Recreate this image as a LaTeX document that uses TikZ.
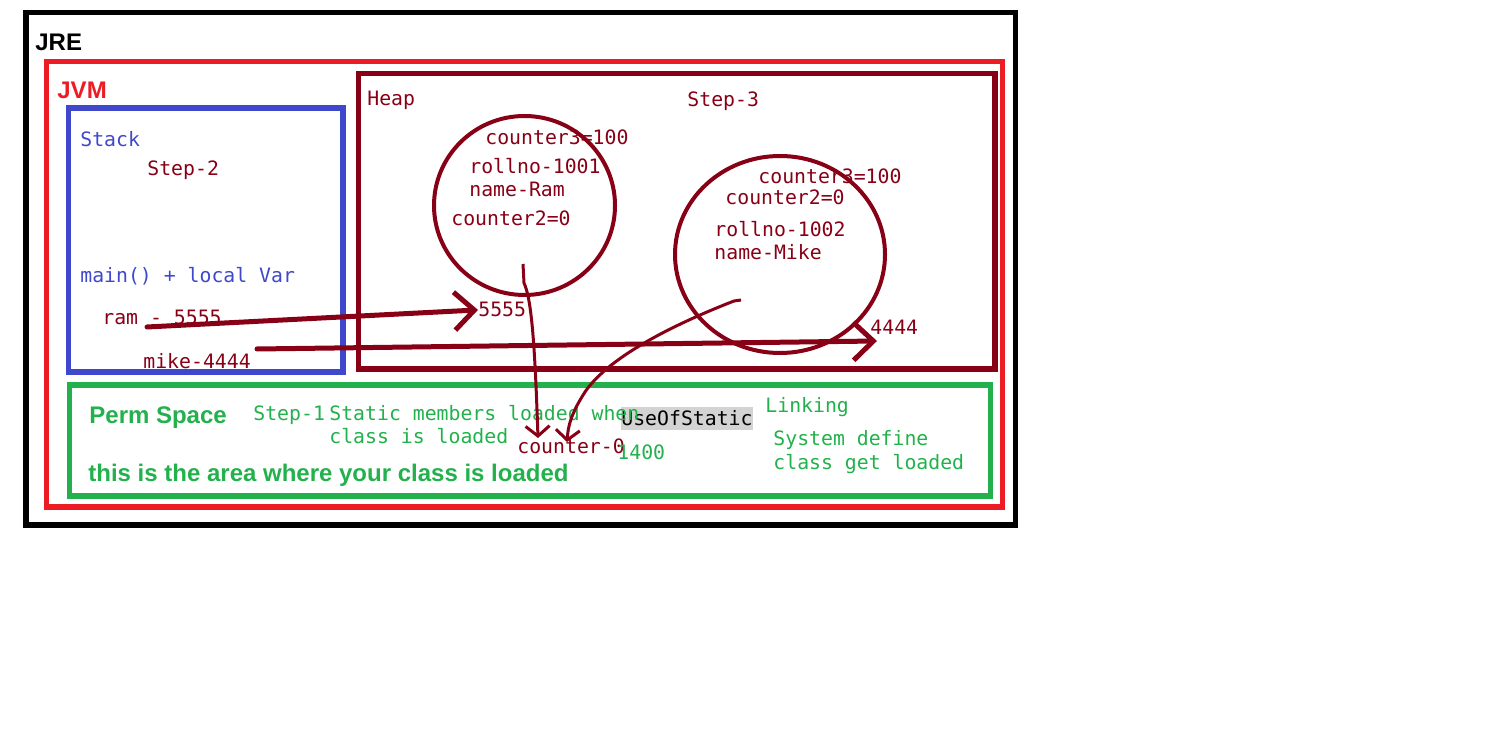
\documentclass[tikz,border=0pt]{standalone}
\usepackage{fontspec}
\setmainfont{Liberation Sans}
\setmonofont{DejaVu Sans Mono}
\usetikzlibrary{shapes, arrows.meta, positioning}
\definecolor{jvmred}{RGB}{237,28,36}
\definecolor{stackblue}{RGB}{63,72,204}
\definecolor{heapred}{RGB}{136,0,21}
\definecolor{permgreen}{RGB}{34,177,76}
\definecolor{selgray}{RGB}{211,211,211}
\tikzstyle{area} = [line width=2.6pt]
\tikzstyle{areatitle} = [anchor=base west, inner sep=0pt, font=\fontsize{12}{14}\selectfont\bfseries]
\tikzstyle{monotext} = [anchor=base west, inner sep=0pt, font=\fontsize{9.9}{12}\selectfont\ttfamily]
\tikzstyle{objcircle} = [ellipse, draw=heapred, line width=2pt]
\tikzstyle{refline} = [-{Straight Barb[length=10pt, width=19pt]}, heapred, line width=2.5pt, line cap=round]
\tikzstyle{loadline} = [-{Straight Barb[length=5pt, width=12pt]}, heapred, line width=1.5pt]

\begin{document}
\begin{tikzpicture}[x=0.5pt, y=-0.5pt]
  \useasboundingbox (0,0) rectangle (1508,742);
  % 区域
  \draw[line width=2.8pt] (26,12.5) rectangle (1015.5,525);
  \draw[area, jvmred] (46.3,61.7) rectangle (1002.7,507);
  \draw[area, stackblue] (68.3,108) rectangle (343,372);
  \draw[area, heapred] (358.3,73.7) rectangle (995,369);
  \draw[area, permgreen] (69.5,385) rectangle (990.5,496);

  % 标题
  \node[areatitle] (jre) at (35,51) {JRE};
  \node[areatitle, jvmred] (jvm) at (57,99) {JVM};
  \node[areatitle, permgreen] (perm) at (89,424) {Perm Space};
  \node[areatitle, permgreen] (permnote) at (88,481) {this is the area where your class is loaded};

  % 栈
  \node[monotext, stackblue] (stack) at (80,147) {Stack};
  \node[monotext, heapred] (step2) at (147,176) {Step-2};
  \node[monotext, stackblue] (mainvar) at (80,283) {main() + local Var};
  \node[monotext, heapred] (ramvar) at (102,325) {ram - 5555};
  \node[monotext, heapred] (mikevar) at (143,369) {mike-4444};

  % 堆
  \node[monotext, heapred] (heap) at (367,106) {Heap};
  \node[monotext, heapred] (step3) at (687,107) {Step-3};
  \node[objcircle, minimum width=90.5pt, minimum height=89.5pt] (ramobj) at (524.5,205.5) {};
  \node[objcircle, minimum width=105pt, minimum height=98.5pt] (mikeobj) at (780,254.5) {};
  \node[monotext, heapred] (ramc3) at (485,145) {counter3=100};
  \node[monotext, heapred] (ramroll) at (469,174) {rollno-1001};
  \node[monotext, heapred] (ramname) at (469,197) {name-Ram};
  \node[monotext, heapred] (ramc2) at (451,226) {counter2=0};
  \node[monotext, heapred] (mikec3) at (758,184) {counter3=100};
  \node[monotext, heapred] (mikec2) at (725,205) {counter2=0};
  \node[monotext, heapred] (mikeroll) at (714,237) {rollno-1002};
  \node[monotext, heapred] (mikename) at (714,260) {name-Mike};
  \node[monotext, heapred] (ramaddr) at (478,317) {5555};
  \node[monotext, heapred] (mikeaddr) at (870,335) {4444};

  % 方法区
  \node[monotext, fill=selgray, text height=9.5pt, text depth=2pt] (useofstatic) at (621,426) {UseOfStatic};
  \node[monotext, permgreen] (step1) at (253,421) {Step-1};
  \node[monotext, permgreen] (static1) at (329,421) {Static members loaded when};
  \node[monotext, permgreen] (static2) at (329,444) {class is loaded};
  \node[monotext, heapred] (counter0) at (517,453) {counter-0};
  \node[monotext, permgreen] (val1400) at (617,459) {1400};
  \node[monotext, permgreen] (linking) at (765,413) {Linking};
  \node[monotext, permgreen] (sysdef1) at (773,445) {System define};
  \node[monotext, permgreen] (sysdef2) at (773,469) {class get loaded};

  % 引用
  \coordinate (ramtail) at (147,327);
  \coordinate (miketail) at (257,349);
  \coordinate (miketip) at (877,341);
  \coordinate (ramstatic) at (523,264);
  \coordinate (mikestatic) at (741,300);
  \coordinate (ctrtip1) at (538,438);
  \coordinate (ctrtip2) at (567,442);
  \draw[refline] (ramtail) -- (ramaddr.west);
  \draw[refline] (miketail) -- (miketip);
  \draw[loadline] (ramstatic) -- (524,283) .. controls (532,300) and (535,350) .. (ctrtip1);
  \draw[loadline] (mikestatic) -- (734,301) .. controls (680,322) and (610,355) .. (585,392) .. controls (570,415) and (568,428) .. (ctrtip2);
\end{tikzpicture}
\end{document}
